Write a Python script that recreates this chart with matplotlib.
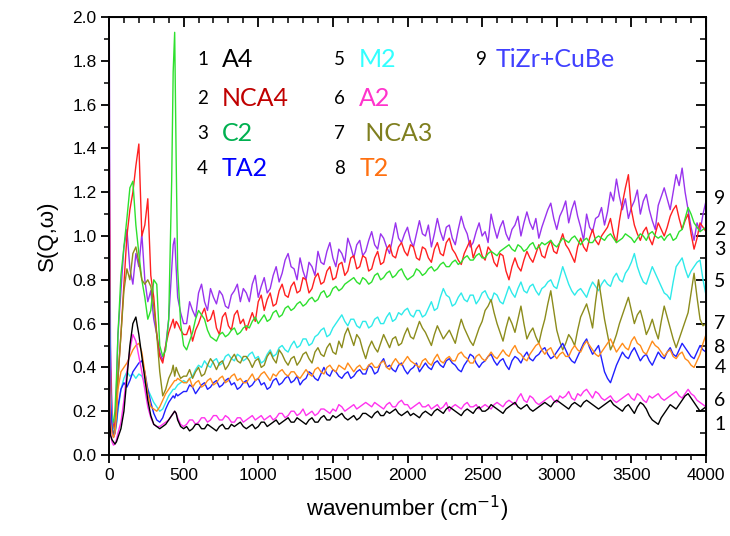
import numpy as np
import matplotlib
matplotlib.use("Agg")
import matplotlib.pyplot as plt

# ---------------- data ----------------
# sample positions (cm^-1)
x_low = [0, 5, 10, 20, 30, 40, 50, 60, 80, 100, 120, 140, 160, 180, 200, 220, 240, 260,
         280, 300, 320, 340, 360, 380, 400, 420, 430, 440, 450, 460, 480, 500]
x_high = list(range(520, 4001, 20))   # 175 positions

# values below 500 cm^-1 (S units); values above 500 cm^-1 in hundredths of S
s1_low = [0.30, 0.15, 0.09, 0.07, 0.06, 0.05, 0.06, 0.08, 0.12, 0.20, 0.35, 0.50, 0.60, 0.63, 0.55, 0.45, 0.35, 0.25,
          0.18, 0.14, 0.13, 0.12, 0.13, 0.14, 0.16, 0.18, 0.19, 0.20, 0.19, 0.16, 0.13, 0.12]
s1_high_pct = [
    13, 11, 12, 14, 14, 12, 12, 14, 13, 12, 11, 13, 14, 12, 12, 14, 13, 14, 15, 13,
    12, 13, 14, 12, 13, 15, 15, 13, 14, 15, 16, 14, 15, 16, 17, 15, 15, 17, 16, 15,
    14, 16, 17, 15, 15, 17, 18, 16, 16, 18, 17, 18, 19, 17, 16, 17, 18, 16, 17, 19,
    19, 18, 17, 19, 20, 18, 18, 20, 19, 20, 21, 19, 18, 19, 20, 18, 19, 18, 17, 19,
    20, 19, 18, 20, 21, 20, 19, 21, 22, 21, 20, 19, 18, 20, 21, 20, 19, 21, 22, 20,
    20, 21, 23, 22, 21, 20, 19, 21, 22, 23, 24, 22, 21, 22, 23, 21, 20, 21, 22, 23,
    24, 23, 22, 24, 25, 24, 23, 22, 21, 23, 24, 23, 22, 24, 25, 24, 23, 22, 21, 22,
    23, 24, 25, 23, 22, 21, 20, 22, 23, 21, 19, 22, 24, 23, 21, 18, 16, 15, 14, 17,
    19, 21, 23, 22, 21, 23, 25, 27, 28, 26, 24, 22, 20, 21, 22]

s2_low = [1.70, 0.90, 0.40, 0.18, 0.12, 0.14, 0.22, 0.35, 0.55, 0.78, 1.00, 1.12, 1.20, 1.32, 1.42, 1.00, 1.05, 1.17,
          0.82, 0.72, 0.55, 0.45, 0.42, 0.50, 0.56, 0.60, 0.62, 0.58, 0.61, 0.60, 0.57, 0.55]
s2_high_pct = [
    55, 59, 52, 57, 60, 64, 67, 61, 62, 66, 58, 55, 63, 65, 59, 57, 64, 66, 60, 62,
    57, 61, 65, 61, 70, 73, 66, 71, 74, 68, 69, 75, 78, 73, 72, 77, 79, 74, 75, 81,
    80, 74, 76, 81, 83, 78, 79, 84, 86, 80, 81, 87, 88, 82, 84, 90, 91, 85, 86, 91,
    90, 84, 85, 90, 93, 87, 88, 94, 96, 91, 90, 95, 97, 93, 91, 96, 95, 90, 89, 95,
    94, 90, 88, 94, 97, 92, 91, 97, 99, 94, 92, 89, 87, 92, 95, 98, 90, 94, 96, 91,
    89, 95, 93, 88, 86, 92, 91, 84, 80, 86, 90, 86, 84, 89, 93, 90, 88, 92, 96, 91,
    90, 95, 98, 93, 92, 97, 101, 96, 94, 91, 88, 95, 99, 95, 93, 99, 103, 98, 96, 100,
    102, 104, 108, 101, 97, 107, 115, 122, 128, 112, 105, 101, 98, 102, 104, 99, 96, 101, 106, 103,
    100, 104, 109, 112, 114, 108, 103, 107, 110, 101, 94, 99, 106, 104, 102]

s3_low = [0.50, 0.30, 0.22, 0.17, 0.15, 0.20, 0.35, 0.55, 0.82, 0.95, 1.08, 1.22, 1.25, 1.05, 0.92, 0.80, 0.72, 0.62,
          0.66, 0.80, 0.78, 0.50, 0.45, 0.48, 0.62, 1.25, 1.75, 1.93, 1.35, 0.85, 0.60, 0.50]
s3_high_pct = [
    48, 52, 56, 62, 66, 64, 62, 57, 54, 53, 52, 55, 56, 54, 55, 57, 58, 55, 56, 58,
    59, 58, 61, 63, 60, 62, 64, 61, 62, 65, 66, 63, 64, 67, 68, 66, 67, 69, 70, 68,
    69, 71, 72, 70, 71, 74, 75, 72, 73, 76, 77, 75, 76, 78, 79, 80, 81, 79, 78, 81,
    80, 78, 79, 82, 83, 80, 81, 83, 84, 81, 82, 84, 85, 82, 80, 81, 82, 85, 84, 82,
    83, 85, 86, 84, 85, 87, 88, 86, 86, 88, 89, 87, 88, 90, 91, 89, 89, 91, 92, 90,
    90, 92, 93, 92, 91, 93, 94, 95, 96, 94, 93, 96, 95, 93, 94, 96, 97, 94, 95, 97,
    96, 97, 98, 96, 95, 97, 99, 98, 97, 99, 100, 98, 96, 98, 99, 97, 97, 99, 100, 99,
    98, 100, 101, 99, 97, 98, 99, 101, 100, 99, 97, 99, 101, 100, 98, 101, 102, 100, 99, 100,
    98, 100, 101, 98, 99, 102, 103, 108, 113, 110, 106, 104, 102, 103, 104]

s4_low = [1.00, 0.50, 0.25, 0.12, 0.08, 0.10, 0.15, 0.22, 0.30, 0.33, 0.31, 0.34, 0.38, 0.40, 0.42, 0.43, 0.38, 0.30,
          0.24, 0.19, 0.16, 0.15, 0.17, 0.21, 0.24, 0.26, 0.27, 0.26, 0.28, 0.27, 0.28, 0.29]
s4_high_pct = [
    29, 32, 31, 28, 30, 32, 33, 30, 31, 33, 34, 31, 32, 34, 35, 32, 33, 30, 31, 33,
    34, 31, 32, 34, 35, 32, 33, 30, 31, 34, 35, 32, 33, 35, 36, 33, 34, 36, 32, 34,
    35, 38, 37, 35, 34, 37, 40, 37, 36, 39, 38, 36, 35, 37, 38, 35, 36, 38, 39, 37,
    37, 41, 40, 37, 38, 42, 44, 40, 41, 39, 38, 41, 42, 39, 37, 39, 40, 42, 38, 40,
    42, 40, 39, 42, 43, 41, 40, 43, 44, 42, 41, 39, 38, 41, 43, 46, 45, 42, 40, 42,
    43, 45, 46, 43, 41, 43, 44, 41, 39, 43, 45, 44, 42, 45, 47, 44, 43, 45, 46, 48,
    49, 46, 44, 45, 47, 49, 51, 48, 45, 43, 42, 45, 48, 51, 53, 49, 46, 48, 50, 44,
    38, 35, 33, 37, 41, 44, 47, 45, 44, 47, 49, 46, 43, 45, 46, 43, 41, 44, 47, 45,
    44, 47, 49, 46, 45, 48, 51, 49, 47, 45, 44, 47, 50, 48, 47]

s5_low = [1.22, 0.60, 0.30, 0.15, 0.10, 0.10, 0.14, 0.20, 0.30, 0.35, 0.38, 0.36, 0.37, 0.35, 0.37, 0.36, 0.33, 0.30,
          0.27, 0.24, 0.22, 0.20, 0.21, 0.24, 0.27, 0.29, 0.30, 0.30, 0.31, 0.32, 0.33, 0.34]
s5_high_pct = [
    33, 35, 36, 39, 41, 40, 43, 41, 40, 43, 44, 41, 42, 45, 46, 44, 43, 46, 45, 43,
    44, 46, 47, 44, 45, 42, 43, 46, 48, 45, 46, 49, 50, 48, 47, 50, 52, 49, 50, 53,
    53, 50, 51, 54, 55, 57, 58, 54, 55, 58, 60, 62, 64, 61, 59, 62, 62, 59, 58, 61,
    61, 58, 59, 62, 63, 60, 60, 63, 65, 61, 62, 65, 64, 66, 67, 64, 63, 66, 66, 63,
    64, 67, 70, 66, 67, 72, 76, 73, 72, 68, 69, 72, 74, 71, 70, 73, 73, 69, 71, 74,
    75, 72, 70, 74, 73, 70, 69, 73, 77, 74, 72, 76, 79, 75, 74, 77, 78, 75, 73, 76,
    77, 79, 80, 77, 76, 81, 86, 82, 78, 75, 73, 75, 76, 74, 72, 76, 79, 77, 75, 78,
    80, 78, 77, 81, 83, 80, 79, 83, 85, 88, 92, 86, 82, 79, 78, 82, 86, 83, 80, 77,
    74, 73, 71, 79, 86, 88, 90, 85, 81, 84, 86, 88, 89, 80, 73]

s6_low = [0.40, 0.20, 0.10, 0.06, 0.045, 0.05, 0.07, 0.10, 0.15, 0.25, 0.38, 0.48, 0.55, 0.52, 0.45, 0.38, 0.30, 0.22,
          0.17, 0.14, 0.13, 0.13, 0.14, 0.15, 0.16, 0.18, 0.19, 0.20, 0.19, 0.17, 0.14, 0.13]
s6_high_pct = [
    14, 16, 16, 14, 15, 17, 17, 15, 16, 18, 18, 16, 16, 18, 17, 15, 15, 17, 17, 15,
    16, 17, 18, 16, 17, 18, 16, 17, 18, 16, 17, 19, 19, 17, 18, 20, 20, 18, 19, 21,
    18, 19, 20, 18, 19, 21, 21, 20, 19, 21, 20, 23, 22, 20, 21, 22, 23, 21, 22, 23,
    24, 23, 22, 24, 23, 22, 21, 23, 24, 22, 22, 24, 25, 23, 23, 21, 22, 23, 24, 22,
    22, 23, 21, 22, 23, 21, 22, 24, 20, 22, 23, 22, 21, 23, 24, 22, 22, 23, 21, 22,
    23, 22, 21, 23, 24, 23, 22, 24, 25, 24, 23, 26, 28, 25, 24, 27, 26, 24, 23, 24,
    25, 26, 27, 25, 24, 27, 26, 27, 29, 26, 25, 28, 27, 29, 30, 28, 26, 29, 28, 26,
    25, 26, 27, 25, 24, 25, 26, 27, 28, 26, 25, 28, 27, 25, 24, 27, 26, 27, 28, 26,
    25, 26, 27, 28, 29, 27, 26, 28, 30, 28, 27, 25, 24, 23, 22]

s7_low = [0.50, 0.30, 0.18, 0.12, 0.10, 0.12, 0.20, 0.35, 0.55, 0.75, 0.85, 0.80, 0.92, 0.95, 0.88, 0.80, 0.78, 0.80,
          0.77, 0.68, 0.55, 0.38, 0.27, 0.30, 0.35, 0.38, 0.41, 0.36, 0.40, 0.38, 0.35, 0.36]
s7_high_pct = [
    36, 39, 35, 38, 40, 36, 37, 41, 44, 42, 39, 42, 43, 39, 41, 44, 46, 43, 42, 45,
    45, 43, 40, 43, 44, 40, 41, 45, 47, 44, 42, 48, 46, 43, 41, 44, 45, 41, 43, 46,
    47, 44, 42, 47, 49, 46, 45, 49, 51, 47, 46, 52, 49, 55, 58, 54, 50, 55, 53, 48,
    44, 49, 52, 49, 47, 51, 55, 52, 49, 53, 54, 50, 51, 55, 58, 54, 53, 57, 61, 58,
    56, 53, 50, 55, 59, 56, 53, 55, 57, 54, 51, 57, 62, 58, 55, 52, 50, 54, 58, 61,
    66, 68, 71, 65, 60, 56, 52, 58, 63, 60, 56, 62, 68, 60, 53, 56, 58, 54, 51, 57,
    62, 69, 75, 66, 57, 52, 48, 51, 55, 53, 50, 57, 63, 66, 69, 64, 58, 70, 80, 71,
    62, 55, 48, 51, 55, 60, 64, 68, 72, 66, 60, 64, 66, 61, 55, 58, 62, 57, 53, 61,
    68, 63, 58, 53, 49, 53, 57, 61, 65, 74, 83, 72, 62, 59, 60]

s8_low = [0.60, 0.30, 0.15, 0.10, 0.08, 0.10, 0.18, 0.30, 0.38, 0.40, 0.42, 0.45, 0.48, 0.50, 0.51, 0.47, 0.38, 0.28,
          0.22, 0.21, 0.20, 0.22, 0.25, 0.28, 0.30, 0.32, 0.33, 0.34, 0.34, 0.35, 0.34, 0.33]
s8_high_pct = [
    33, 35, 31, 33, 34, 31, 32, 34, 35, 32, 33, 35, 36, 33, 34, 36, 37, 34, 35, 33,
    33, 35, 37, 34, 35, 37, 38, 36, 34, 37, 36, 38, 39, 37, 36, 38, 38, 36, 35, 37,
    39, 37, 36, 39, 40, 38, 37, 40, 41, 39, 38, 41, 40, 39, 42, 40, 38, 40, 41, 39,
    39, 41, 42, 40, 40, 42, 43, 40, 39, 42, 44, 42, 41, 43, 45, 43, 42, 41, 40, 43,
    44, 42, 41, 44, 46, 43, 42, 44, 45, 43, 43, 46, 47, 45, 44, 42, 42, 45, 46, 44,
    43, 45, 47, 45, 44, 46, 48, 46, 45, 48, 50, 47, 46, 44, 43, 46, 48, 50, 51, 48,
    46, 48, 49, 46, 44, 46, 47, 45, 45, 48, 50, 48, 47, 50, 52, 50, 48, 46, 45, 47,
    49, 51, 53, 50, 47, 49, 51, 49, 48, 52, 54, 51, 50, 47, 46, 49, 52, 50, 49, 47,
    45, 47, 48, 45, 44, 46, 47, 44, 43, 41, 40, 43, 46, 51, 55]

s9_low = [2.40, 1.20, 0.50, 0.20, 0.12, 0.15, 0.30, 0.55, 0.75, 0.95, 1.03, 0.85, 0.78, 0.92, 0.86, 1.01, 0.80, 0.70,
          0.75, 0.62, 0.55, 0.47, 0.43, 0.50, 0.62, 0.85, 0.96, 0.99, 0.85, 0.72, 0.65, 0.60]
s9_high_pct = [
    60, 70, 66, 63, 74, 78, 70, 66, 76, 72, 69, 75, 73, 68, 67, 73, 75, 78, 70, 76,
    74, 70, 78, 82, 72, 77, 81, 74, 76, 82, 86, 79, 83, 89, 92, 86, 85, 80, 90, 84,
    80, 88, 86, 82, 93, 88, 87, 93, 97, 90, 86, 94, 92, 88, 99, 95, 90, 96, 98, 91,
    93, 98, 102, 96, 94, 101, 99, 95, 92, 99, 106, 99, 97, 101, 104, 98, 95, 101, 107, 101,
    100, 105, 95, 101, 108, 102, 98, 104, 105, 99, 96, 103, 109, 104, 101, 95, 97, 102, 106, 100,
    102, 97, 110, 104, 99, 104, 107, 101, 98, 103, 105, 109, 100, 106, 111, 106, 103, 108, 99, 104,
    108, 112, 115, 108, 103, 109, 112, 116, 106, 112, 116, 109, 104, 98, 110, 104, 102, 108, 109, 113,
    105, 111, 120, 116, 126, 118, 112, 117, 108, 113, 116, 121, 110, 116, 119, 112, 107, 103, 114, 118,
    122, 117, 112, 120, 128, 123, 131, 120, 112, 104, 98, 106, 102, 110, 116]

numbers = ["1", "2", "3", "4", "5", "6", "7", "8", "9"]
names = ["A4", "NCA4", "C2", "TA2", "M2", "A2", " NCA3", "T2", "TiZr+CuBe"]
line_colors = ["#000000", "#ff2020", "#2ee02e", "#2020ff", "#2eeaea",
               "#ff33ee", "#8c8c1c", "#ff8c1a", "#9933ee"]
text_colors = ["#000000", "#c00000", "#00b050", "#0000ff", "#33ffff",
               "#ff33cc", "#7f7f1f", "#ff7010", "#4040ff"]
right_label_y = [0.14, 1.03, 0.94, 0.40, 0.79, 0.25, 0.60, 0.49, 1.17]

x_all = np.array(x_low + x_high, dtype=float)
lows = [s1_low, s2_low, s3_low, s4_low, s5_low, s6_low, s7_low, s8_low, s9_low]
highs = [s1_high_pct, s2_high_pct, s3_high_pct, s4_high_pct, s5_high_pct,
         s6_high_pct, s7_high_pct, s8_high_pct, s9_high_pct]
series = [np.concatenate([np.array(lo, float), np.array(hi, float) / 100.0])
          for lo, hi in zip(lows, highs)]

# ---------------- figure ----------------
fig = plt.figure(figsize=(7.30, 5.36), dpi=100)
ax = fig.add_axes([109 / 730, 1 - 455 / 536, 597 / 730, 438 / 536])

draw_order = [8, 1, 2, 4, 6, 3, 7, 5, 0]
for k in draw_order:
    ax.plot(x_all, series[k], color=line_colors[k], lw=1.0)

ax.set_xlim(0, 4000)
ax.set_ylim(0, 2.0)
ax.set_xticks(np.arange(0, 4001, 500))
ax.set_xticks(np.arange(0, 4001, 100), minor=True)
ax.set_yticks(np.arange(0, 2.01, 0.2))
ax.set_yticks(np.arange(0, 2.01, 0.1), minor=True)
ax.set_yticklabels([f"{v:.1f}" for v in np.arange(0, 2.01, 0.2)])

tick_font = "Liberation Sans"
ax.tick_params(axis="both", which="major", direction="out", length=6, width=1.3,
               labelsize=12.5, pad=3)
ax.tick_params(axis="both", which="minor", direction="out", length=3.5, width=1.1)
for lab in ax.get_xticklabels() + ax.get_yticklabels():
    lab.set_fontfamily(tick_font)

for sp in ax.spines.values():
    sp.set_linewidth(1.4)

# mirrored inward ticks on top and right
top = ax.secondary_xaxis("top")
top.set_xticks(np.arange(0, 4001, 500))
top.set_xticks(np.arange(0, 4001, 100), minor=True)
top.tick_params(which="major", direction="in", length=7, width=1.3, labeltop=False)
top.tick_params(which="minor", direction="in", length=4, width=1.1)
top.set_xticklabels([])
right = ax.secondary_yaxis("right")
right.set_yticks(np.arange(0, 2.01, 0.2))
right.set_yticks(np.arange(0, 2.01, 0.1), minor=True)
right.tick_params(which="major", direction="in", length=7, width=1.3, labelright=False)
right.tick_params(which="minor", direction="in", length=4, width=1.1)
right.set_yticklabels([])

ax.set_xlabel("wavenumber (cm$^{-1}$)", fontsize=16, fontfamily=tick_font, labelpad=8)
ax.set_ylabel("S(Q,ω)", fontsize=16, fontfamily=tick_font, labelpad=10)

# in-plot legend text
legend_font = "Lato"
col_num_x = [0.166, 0.166, 0.166, 0.166, 0.395, 0.395, 0.395, 0.395, 0.633]
col_name_x = [0.189, 0.189, 0.189, 0.189, 0.419, 0.419, 0.419, 0.419, 0.648]
row_y = [0.902, 0.815, 0.735, 0.655, 0.902, 0.815, 0.735, 0.655, 0.902]
for k in range(9):
    ax.text(col_num_x[k], row_y[k], numbers[k], transform=ax.transAxes,
            ha="right", va="center", fontsize=13.5, fontfamily=legend_font, color="black")
    ax.text(col_name_x[k], row_y[k], names[k], transform=ax.transAxes,
            ha="left", va="center", fontsize=18, fontfamily=legend_font, color=text_colors[k])

# right-side series labels
for k in range(9):
    ax.annotate(numbers[k], xy=(1.0, right_label_y[k]),
                xycoords=("axes fraction", "data"), xytext=(6, 0),
                textcoords="offset points", ha="left", va="center",
                fontsize=14, fontfamily=legend_font, annotation_clip=False)

fig.savefig("out.png", dpi=100)
